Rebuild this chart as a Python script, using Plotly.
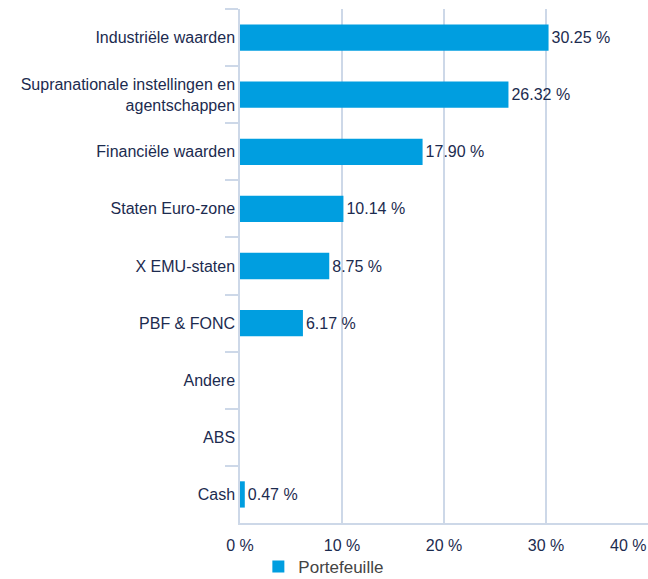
import plotly.graph_objects as go

categories = [
    "Industriële waarden",
    "Supranationale instellingen en<br>agentschappen",
    "Financiële waarden",
    "Staten Euro-zone",
    "X EMU-staten",
    "PBF & FONC",
    "Andere",
    "ABS",
    "Cash",
]
values = [30.25, 26.32, 17.90, 10.14, 8.75, 6.17, None, None, 0.47]
labels = [f"{v:.2f} %" if v is not None else "" for v in values]
tick_vals = [0, 10, 20, 30]
tick_text = ["0 %", "10 %", "20 %", "30 %"]

navy = "#1c2b4f"
grid = "#cdd8e8"
bar_color = "#009ee0"
FS = 16

fig = go.Figure()
fig.add_trace(go.Bar(
    y=categories, x=values, orientation="h",
    name="Portefeuille",
    marker=dict(color=bar_color, line=dict(width=0)),
    text=labels, textposition="outside", cliponaxis=False,
    textfont=dict(color=navy, size=FS),
    hoverinfo="skip",
))

fig.add_annotation(x=40, y=0, xref="x", yref="paper", text="40 %",
                   showarrow=False, xanchor="right", yanchor="top",
                   yshift=-12, font=dict(color=navy, size=FS))

fig.update_layout(
    width=648, height=579,
    margin=dict(l=240, r=0, t=9, b=56),
    plot_bgcolor="white", paper_bgcolor="white",
    font=dict(family="Liberation Sans, Arial, sans-serif", size=FS, color=navy),
    bargap=0.54,
    showlegend=True,
    legend=dict(orientation="h", x=0.045, y=0.052, xref="paper", yref="container",
                xanchor="left", yanchor="top", bgcolor="rgba(0,0,0,0)",
                font=dict(color="#444444", size=17)),
    xaxis=dict(range=[0, 40], tickvals=tick_vals + [40], ticktext=tick_text + [""],
               showgrid=True, gridcolor=grid, gridwidth=1.5,
               zeroline=False, showline=True, linecolor=grid, linewidth=1.5,
               ticks="outside", ticklen=7, tickcolor="rgba(0,0,0,0)", automargin=False,
               tickfont=dict(color=navy, size=FS)),
    yaxis=dict(autorange="reversed", showline=True, linecolor=grid, linewidth=1.5,
               ticks="outside", tickson="boundaries", ticklen=13, tickcolor=grid,
               tickwidth=1.5, showgrid=False, automargin=False,
               tickfont=dict(color=navy, size=FS)),
)

fig.write_html("out.html", config={"displayModeBar": False},
               post_script="document.body.style.margin='0';")
